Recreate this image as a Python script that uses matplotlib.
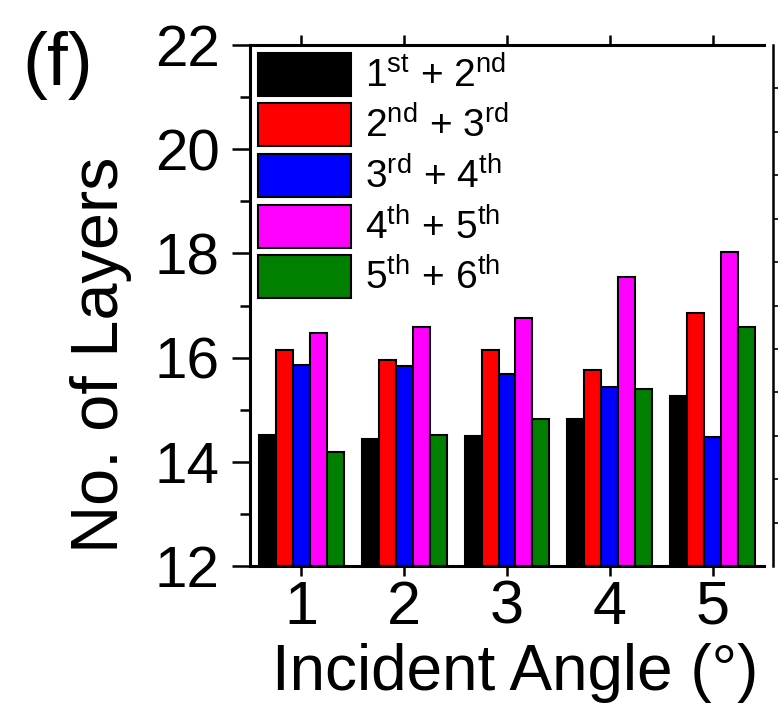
import matplotlib
matplotlib.use("Agg")
import matplotlib.pyplot as plt
import numpy as np

plt.rcParams['font.family'] = ['Liberation Sans', 'DejaVu Sans']
plt.rcParams['mathtext.fontset'] = 'custom'
plt.rcParams['mathtext.rm'] = 'Liberation Sans'
plt.rcParams['mathtext.it'] = 'Liberation Sans:italic'
plt.rcParams['mathtext.bf'] = 'Liberation Sans:bold'

# ---- data ----
angles = [1, 2, 3, 4, 5]
series_labels = [r'1$^{\rm st}$ + 2$^{\rm nd}$',
                 r'2$^{\rm nd}$ + 3$^{\rm rd}$',
                 r'3$^{\rm rd}$ + 4$^{\rm th}$',
                 r'4$^{\rm th}$ + 5$^{\rm th}$',
                 r'5$^{\rm th}$ + 6$^{\rm th}$']
s12 = [14.51, 14.44, 14.49, 14.83, 15.27]
s23 = [16.15, 15.95, 16.15, 15.76, 16.86]
s34 = [15.86, 15.83, 15.68, 15.43, 14.48]
s45 = [16.47, 16.59, 16.76, 17.54, 18.03]
s56 = [14.18, 14.51, 14.82, 15.40, 16.59]
series = [s12, s23, s34, s45, s56]
colors = ['#000000', '#ff0000', '#0000ff', '#ff00ff', '#007f00']
yticks = [12, 14, 16, 18, 20, 22]

W, H = 778, 712
fig = plt.figure(figsize=(W / 100, H / 100), dpi=100)
ax = fig.add_axes([250 / W, 1 - 566 / H, (764 - 250) / W, (566 - 45) / H])

bw = 0.165
x = np.array(angles, dtype=float)
n = len(series)
for i, (vals, c, lab) in enumerate(zip(series, colors, series_labels)):
    off = (i - (n - 1) / 2) * bw
    ax.bar(x + off, np.array(vals) - 12, bottom=12, width=bw, color=c,
           edgecolor='black', linewidth=1.5, label=lab, zorder=2)

ax.set_xlim(0.5, 5.5)
ax.set_ylim(12, 22)
ax.set_yticks(yticks)
ax.set_yticks(np.arange(13, 22, 2), minor=True)
ax.set_xticks(angles)
ax.tick_params(axis='y', which='major', direction='out', length=13, width=1.8,
               labelsize=42, pad=9)
ax.tick_params(axis='y', which='minor', direction='out', length=7, width=1.8)
ax.tick_params(axis='x', which='major', direction='out', length=7, width=1.8,
               labelsize=44, pad=3, top=True)
for s in ['left', 'bottom', 'top']:
    ax.spines[s].set_linewidth(2.2)
ax.spines['right'].set_visible(False)

ax.set_ylabel('No. of Layers', fontsize=48)
ax.yaxis.set_label_coords(-0.23, 0.405)
ax.set_xlabel('Incident Angle (°)', fontsize=46)
ax.xaxis.set_label_coords(0.515, -0.148)

leg = ax.legend(loc='upper left', bbox_to_anchor=(0.0, 1.0), frameon=False,
                fontsize=28, handlelength=2.4, handleheight=1.32,
                handletextpad=0.35, labelspacing=0.2, borderaxespad=0.1,
                borderpad=0.1)
for h in leg.legend_handles:
    h.set_linewidth(1.5)

fig.text(22 / W, 1 - 66 / H, '(f)', fontsize=54, ha='left', va='center')

# fragment of the neighbouring panel's axis at the right edge
ax2 = fig.add_axes([773 / W, 1 - 566 / H, 0.2, (566 - 45) / H])
ax2.set_ylim(0, 12)
ax2.set_yticks(np.arange(1, 12))
ax2.set_xticks([])
ax2.tick_params(axis='y', direction='in', length=4, width=1.2, labelleft=False)
for s in ['right', 'top', 'bottom']:
    ax2.spines[s].set_visible(False)
ax2.spines['left'].set_linewidth(1.8)
ax2.patch.set_alpha(0)

fig.savefig('out.png', dpi=100)
